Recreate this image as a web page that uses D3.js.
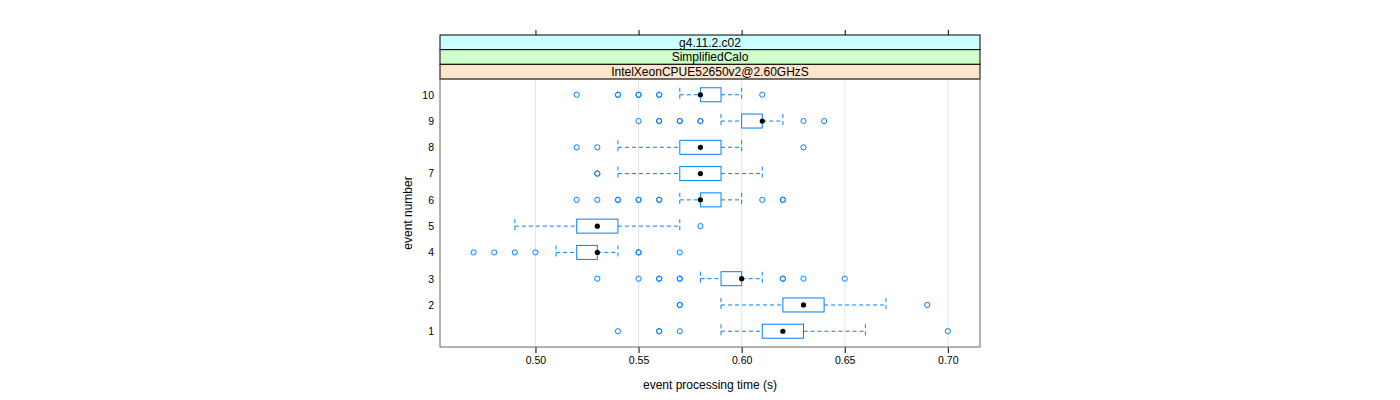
<!DOCTYPE html>
<html><head><meta charset="utf-8">
<script src="https://cdn.jsdelivr.net/npm/d3@7"></script>
<style>body{margin:0;background:#fff}svg text{font-family:"Liberation Sans",Arial,Helvetica,sans-serif}</style>
</head><body><svg id="c" width="1400" height="400"></svg>
<script>
const events = [1,2,3,4,5,6,7,8,9,10];
const q1      = [0.61,0.62,0.59,0.52,0.52,0.58,0.57,0.57,0.60,0.58];
const medians = [0.62,0.63,0.60,0.53,0.53,0.58,0.58,0.58,0.61,0.58];
const q3      = [0.63,0.64,0.60,0.53,0.54,0.59,0.59,0.59,0.61,0.59];
const whiskLo = [0.59,0.59,0.58,0.51,0.49,0.57,0.54,0.54,0.59,0.57];
const whiskHi = [0.66,0.67,0.61,0.54,0.57,0.60,0.61,0.60,0.62,0.60];
const outliers = [
  [0.54,0.56,0.56,0.57,0.70],
  [0.57,0.57,0.69],
  [0.53,0.55,0.56,0.56,0.57,0.57,0.62,0.62,0.63,0.65],
  [0.47,0.48,0.49,0.50,0.55,0.55,0.57],
  [0.58],
  [0.52,0.53,0.54,0.54,0.55,0.55,0.56,0.56,0.61,0.62,0.62],
  [0.53,0.53],
  [0.52,0.53,0.63],
  [0.55,0.56,0.56,0.57,0.57,0.58,0.58,0.63,0.64],
  [0.52,0.54,0.54,0.55,0.55,0.56,0.56,0.61]
];
const xTicks = [0.50,0.55,0.60,0.65,0.70];
const strips = ["g4.11.2.c02","SimplifiedCalo","IntelXeonCPUE52650v2@2.60GHzS"];
const stripColors = ["#ccffff","#ccffcc","#ffe5cc"];

const svg = d3.select("#c");
const L=440, R=980, T=79, B=347;
const x = d3.scaleLinear().domain([0.4537,0.7156]).range([L,R]);
const y = d3.scaleLinear().domain([0.4,10.6]).range([B,T]);
const blue = "#0080ff";
const half = 7;

// gridlines
svg.append("g").selectAll("line").data(xTicks).join("line")
  .attr("x1",d=>x(d)).attr("x2",d=>x(d)).attr("y1",T).attr("y2",B)
  .attr("stroke","#e6e6e6").attr("stroke-width",1);

// strips
const sh = (T-35)/3;
strips.forEach((s,i)=>{
  const yy = 35 + i*sh;
  svg.append("rect").attr("x",L).attr("y",yy).attr("width",R-L).attr("height",sh)
    .attr("fill",stripColors[i]).attr("stroke","#000").attr("stroke-width",1);
  svg.append("text").attr("x",(L+R)/2).attr("y",yy+sh/2).attr("dy","0.36em")
    .attr("text-anchor","middle").attr("font-size",12).attr("fill","#000").text(s);
});

// axes
const xb = d3.axisBottom(x).tickValues(xTicks).tickFormat(d3.format(".2f")).tickSize(6).tickPadding(4);
const gb = svg.append("g").attr("transform",`translate(0,${B})`).call(xb);
gb.select(".domain").remove();
gb.selectAll("line").attr("stroke","#000");
gb.selectAll("text").attr("font-size",10.5).attr("fill","#000");
const xt = d3.axisTop(x).tickValues(xTicks).tickFormat("").tickSize(5);
const gt = svg.append("g").attr("transform",`translate(0,35)`).call(xt);
gt.select(".domain").remove();
gt.selectAll("line").attr("stroke","#000");
const yl = d3.axisLeft(y).tickValues(events).tickFormat(d3.format("d")).tickSize(0).tickPadding(6);
const gl = svg.append("g").attr("transform",`translate(${L},0)`).call(yl);
gl.select(".domain").remove();
gl.selectAll("text").attr("font-size",10.5).attr("fill","#000");

// boxes
const g = svg.append("g");
events.forEach((e,i)=>{
  const cy = y(e);
  [[whiskLo[i],q1[i]],[q3[i],whiskHi[i]]].forEach(([a,b])=>{
    if (b>a) g.append("line").attr("x1",x(a)).attr("x2",x(b)).attr("y1",cy).attr("y2",cy)
      .attr("stroke",blue).attr("stroke-dasharray","4,3");
  });
  [whiskLo[i],whiskHi[i]].forEach(v=>{
    g.append("line").attr("x1",x(v)).attr("x2",x(v)).attr("y1",cy-half).attr("y2",cy+half)
      .attr("stroke",blue).attr("stroke-dasharray","4,3");
  });
  g.append("rect").attr("x",x(q1[i])).attr("y",cy-half).attr("width",x(q3[i])-x(q1[i])).attr("height",2*half)
    .attr("fill","none").attr("stroke",blue);
  outliers[i].forEach(v=>{
    g.append("circle").attr("cx",x(v)).attr("cy",cy).attr("r",2.6)
      .attr("fill","none").attr("stroke",blue).attr("stroke-width",1);
  });
  g.append("circle").attr("cx",x(medians[i])).attr("cy",cy).attr("r",2.6).attr("fill","#000");
});

// panel border
svg.append("rect").attr("x",L).attr("y",T).attr("width",R-L).attr("height",B-T)
  .attr("fill","none").attr("stroke","#666").attr("stroke-width",1);

// titles
svg.append("text").attr("x",(L+R)/2).attr("y",389).attr("text-anchor","middle")
  .attr("font-size",12).attr("fill","#000").text("event processing time (s)");
svg.append("text").attr("transform",`translate(412,${(T+B)/2}) rotate(-90)`).attr("text-anchor","middle")
  .attr("font-size",12).attr("fill","#000").text("event number");
</script></body></html>
